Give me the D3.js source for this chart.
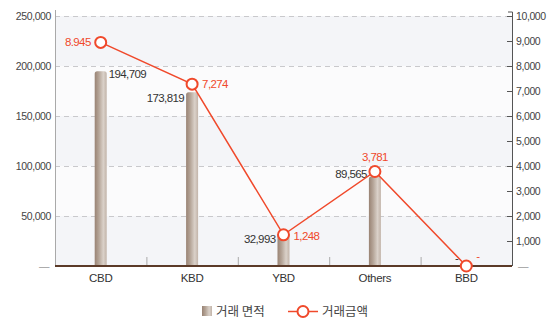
<!DOCTYPE html>
<html>
<head>
<meta charset="utf-8">
<script src="https://cdn.jsdelivr.net/npm/d3@7"></script>
<style>
  html, body { margin: 0; padding: 0; background: #ffffff; }
  svg { display: block; font-family: "Liberation Sans", Arial, sans-serif; }
</style>
</head>
<body>
<svg id="chart" width="557" height="324"></svg>
<script>
// Office transaction area (bars, left axis) and transaction amount (line, right axis)
const categories = ["CBD", "KBD", "YBD", "Others", "BBD"];
const areaValues = [194709, 173819, 32993, 89565, 0];
const amountValues = [8945, 7274, 1248, 3781, 0];
const areaLabels = ["194,709", "173,819", "32,993", "89,565", "-"];
const amountLabels = ["8.945", "7,274", "1,248", "3,781", "-"];
const leftTicks = [0, 50000, 100000, 150000, 200000, 250000];
const rightTicks = [0, 1000, 2000, 3000, 4000, 5000, 6000, 7000, 8000, 9000, 10000];
const legendLabels = ["거래 면적", "거래금액"];

const svg = d3.select("#chart");
const plotLeft = 55, plotRight = 512, plotTop = 16, plotBottom = 266;

const x = d3.scaleBand().domain(categories).range([plotLeft, plotRight]);
const yL = d3.scaleLinear().domain([0, 250000]).range([plotBottom, plotTop]);
const yR = d3.scaleLinear().domain([0, 10000]).range([plotBottom, plotTop]);
const cxOf = c => x(c) + x.bandwidth() / 2;

const defs = svg.append("defs");
const grad = defs.append("linearGradient").attr("id", "barGrad")
  .attr("x1", "0").attr("x2", "1").attr("y1", "0").attr("y2", "0");
grad.append("stop").attr("offset", "0%").attr("stop-color", "#998374");
grad.append("stop").attr("offset", "35%").attr("stop-color", "#b5a598");
grad.append("stop").attr("offset", "72%").attr("stop-color", "#dad1c9");
grad.append("stop").attr("offset", "100%").attr("stop-color", "#c2b4a9");

// plot background bands
const bands = d3.pairs(leftTicks);
svg.append("g").selectAll("rect").data(bands).join("rect")
  .attr("x", plotLeft).attr("width", plotRight - plotLeft)
  .attr("y", d => yL(d[1])).attr("height", d => yL(d[0]) - yL(d[1]))
  .attr("fill", (d, i) => i % 2 === 1 ? "#fbfbfc" : "#f4f5f8");

// dashed grid
svg.append("g").selectAll("line").data(leftTicks.slice(1)).join("line")
  .attr("x1", plotLeft).attr("x2", plotRight)
  .attr("y1", d => yL(d) + 0.5).attr("y2", d => yL(d) + 0.5)
  .attr("stroke", "#c9c9cc").attr("stroke-dasharray", "5,4");

// left axis
const axL = d3.axisLeft(yL).tickValues(leftTicks).tickSize(0).tickPadding(4)
  .tickFormat(d => d === 0 ? "—" : d3.format(",")(d));
const gL = svg.append("g").attr("transform", `translate(${plotLeft},0)`).call(axL);
gL.select(".domain").attr("stroke", "#a9a9a9").attr("d", `M0.5,${plotTop - 6}V${plotBottom}`);
gL.selectAll("text").attr("font-size", 10.5).attr("fill", "#444").attr("letter-spacing", "-0.4");
gL.selectAll(".tick").filter(d => d === 0).select("text").attr("fill", "#999").attr("dx", -2);

// right axis
const axR = d3.axisRight(yR).tickValues(rightTicks).tickSize(-5).tickPadding(4)
  .tickFormat(d => d === 0 ? "—" : d3.format(",")(d));
const gR = svg.append("g").attr("transform", `translate(${plotRight},0)`).call(axR);
gR.select(".domain").attr("stroke", "#555").attr("d", `M-4,${plotTop - 4}H0.5V${plotBottom}`);
gR.selectAll(".tick line").attr("stroke", "#555");
gR.selectAll(".tick").filter(d => d === 0).select("line").remove();
gR.selectAll("text").attr("font-size", 10.5).attr("fill", "#444").attr("letter-spacing", "-0.4");
gR.selectAll(".tick").filter(d => d === 0).select("text").attr("fill", "#999").attr("dx", 2);

// category separators
svg.append("g").selectAll("line").data(categories.slice(1)).join("line")
  .attr("x1", d => x(d) + 0.5).attr("x2", d => x(d) + 0.5)
  .attr("y1", plotBottom - 9).attr("y2", plotBottom)
  .attr("stroke", "#aaa");

// bars
const bw = 12;
svg.append("g").selectAll("path").data(categories).join("path")
  .attr("d", (c, i) => {
    if (areaValues[i] === 0) return "";
    const cx = cxOf(c), y0 = yL(areaValues[i]), r = 2.5;
    return `M${cx - bw / 2},${plotBottom}V${y0 + r}Q${cx - bw / 2},${y0} ${cx - bw / 2 + r},${y0}H${cx + bw / 2 - r}Q${cx + bw / 2},${y0} ${cx + bw / 2},${y0 + r}V${plotBottom}Z`;
  })
  .attr("fill", "url(#barGrad)");

// baseline
svg.append("line").attr("x1", plotLeft).attr("x2", plotRight)
  .attr("y1", plotBottom).attr("y2", plotBottom)
  .attr("stroke", "#5b3a28").attr("stroke-width", 2);

// category labels
svg.append("g").selectAll("text").data(categories).join("text")
  .attr("x", d => cxOf(d)).attr("y", plotBottom + 16)
  .attr("text-anchor", "middle").attr("font-size", 11.5).attr("fill", "#333")
  .attr("letter-spacing", "-0.3").text(d => d);

// bar value labels
const areaPos = [
  { side: "right", dy: 7 }, { side: "left", dy: 10 }, { side: "left", dy: 10 },
  { side: "left", dy: 2 }, { side: "left", dy: -4 }
];
svg.append("g").selectAll("text").data(categories).join("text")
  .attr("x", (c, i) => cxOf(c) + (areaPos[i].side === "right" ? bw / 2 + 2 : -bw / 2 - 2))
  .attr("y", (c, i) => yL(areaValues[i]) + areaPos[i].dy)
  .attr("text-anchor", (c, i) => areaPos[i].side === "right" ? "start" : "end")
  .attr("font-size", 11.5).attr("fill", "#333").attr("letter-spacing", "-0.6")
  .text((c, i) => areaLabels[i]);

// transaction amount line
const red = "#f0492b";
const line = d3.line().x((d, i) => cxOf(categories[i])).y(d => yR(d));
svg.append("path").datum(amountValues).attr("d", line)
  .attr("fill", "none").attr("stroke", red).attr("stroke-width", 1.5);
svg.append("g").selectAll("circle").data(amountValues).join("circle")
  .attr("cx", (d, i) => cxOf(categories[i])).attr("cy", d => yR(d))
  .attr("r", 5.5).attr("fill", "#fff").attr("stroke", red).attr("stroke-width", 2);

// amount labels
const amtPos = [
  { dx: -10, dy: 4, anchor: "end" }, { dx: 10, dy: 4, anchor: "start" },
  { dx: 10, dy: 5, anchor: "start" }, { dx: 0, dy: -10, anchor: "middle" },
  { dx: 10, dy: -6, anchor: "start" }
];
svg.append("g").selectAll("text").data(amountValues).join("text")
  .attr("x", (d, i) => cxOf(categories[i]) + amtPos[i].dx)
  .attr("y", (d, i) => yR(d) + amtPos[i].dy)
  .attr("text-anchor", (d, i) => amtPos[i].anchor)
  .attr("font-size", 11.5).attr("fill", red).attr("letter-spacing", "-0.6")
  .text((d, i) => amountLabels[i]);

// legend
const lg = svg.append("g").attr("transform", "translate(0,311)");
lg.append("rect").attr("x", 202).attr("y", -5).attr("width", 10).attr("height", 10)
  .attr("fill", "url(#barGrad)");
lg.append("text").attr("x", 216).attr("y", 4.5).attr("font-size", 12.5).attr("fill", "#444")
  .attr("font-family", "'Noto Sans CJK KR', sans-serif").text(legendLabels[0]);
lg.append("line").attr("x1", 288).attr("x2", 318).attr("y1", 0.5).attr("y2", 0.5)
  .attr("stroke", red).attr("stroke-width", 1.5);
lg.append("circle").attr("cx", 303).attr("cy", 0.5).attr("r", 5.5)
  .attr("fill", "#fff").attr("stroke", red).attr("stroke-width", 2);
lg.append("text").attr("x", 322).attr("y", 4.5).attr("font-size", 12.5).attr("fill", "#444")
  .attr("font-family", "'Noto Sans CJK KR', sans-serif").text(legendLabels[1]);
</script>
</body>
</html>
